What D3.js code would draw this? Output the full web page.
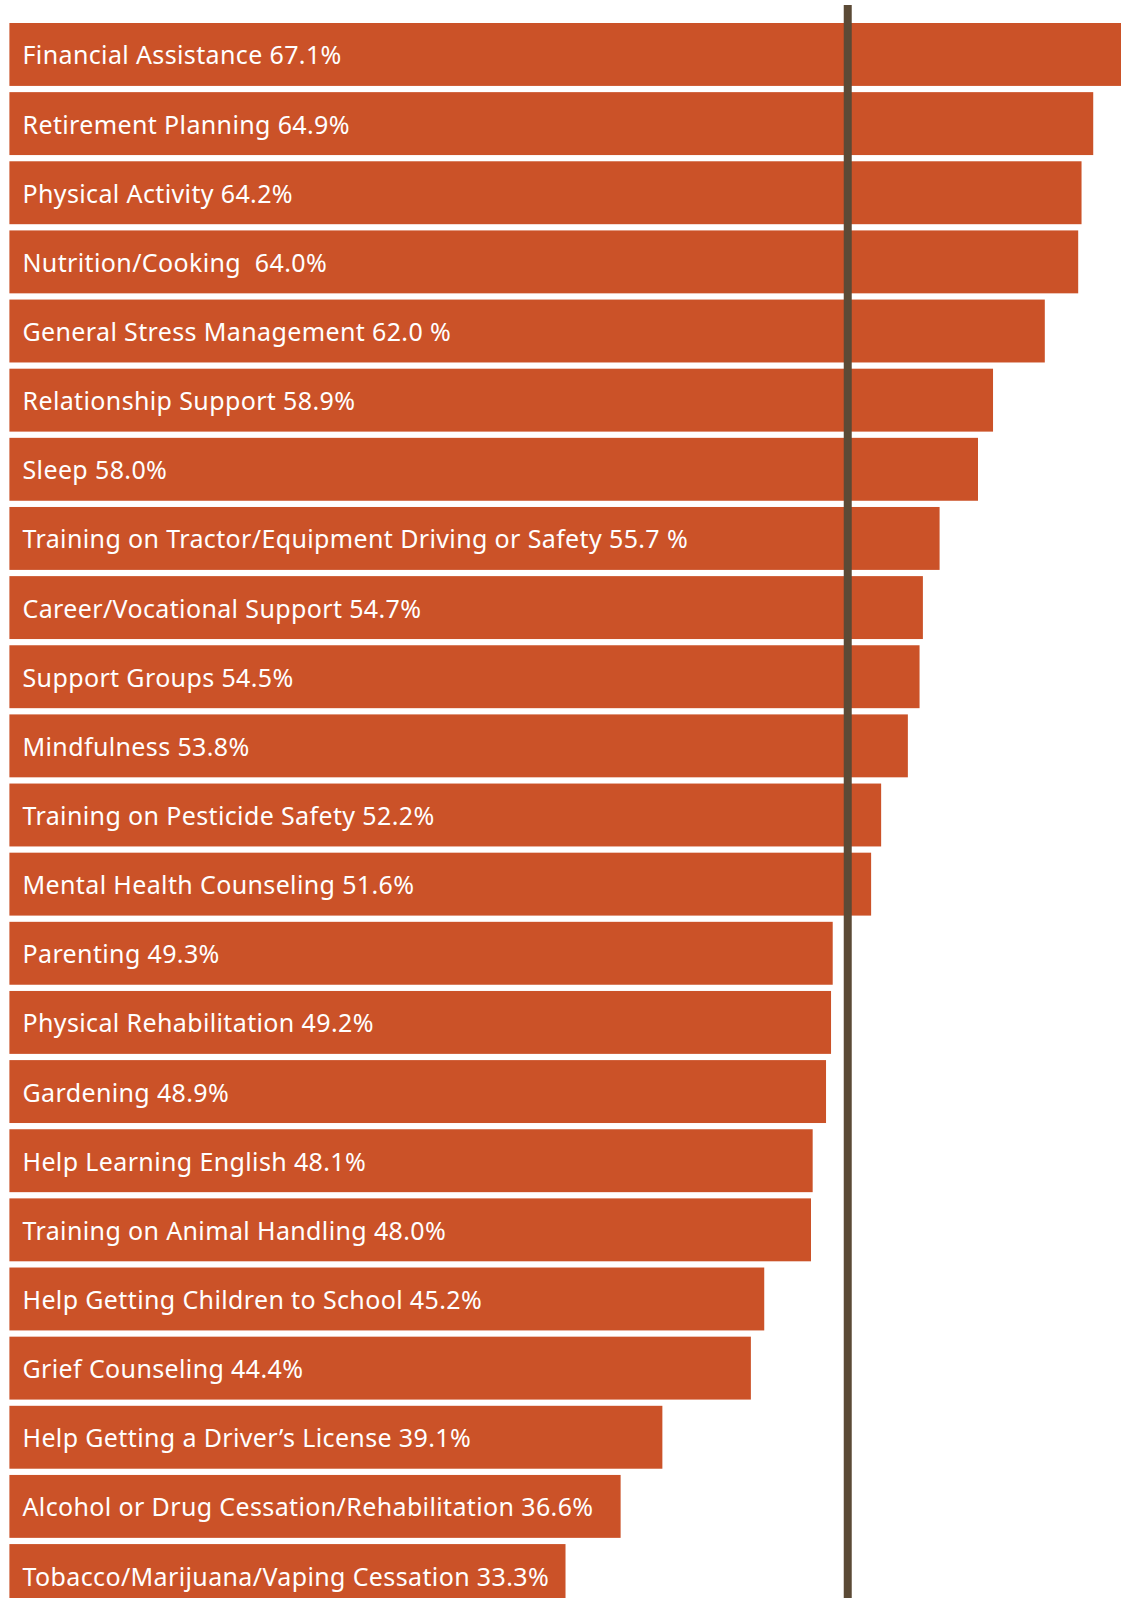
<!DOCTYPE html>
<html>
<head>
<meta charset="utf-8">
<script src="https://cdn.jsdelivr.net/npm/d3@7"></script>
<style>
  html, body { margin: 0; padding: 0; background: #fff; overflow: hidden; }
  svg { display: block; }
  text { white-space: pre; }
</style>
</head>
<body>
<svg id="chart" width="1121" height="1598"></svg>
<script>
const categories = [
  "Financial Assistance", "Retirement Planning", "Physical Activity", "Nutrition/Cooking",
  "General Stress Management", "Relationship Support", "Sleep",
  "Training on Tractor/Equipment Driving or Safety", "Career/Vocational Support",
  "Support Groups", "Mindfulness", "Training on Pesticide Safety", "Mental Health Counseling",
  "Parenting", "Physical Rehabilitation", "Gardening", "Help Learning English",
  "Training on Animal Handling", "Help Getting Children to School", "Grief Counseling",
  "Help Getting a Driver\u2019s License", "Alcohol or Drug Cessation/Rehabilitation",
  "Tobacco/Marijuana/Vaping Cessation"
];
const values = [67.1, 64.9, 64.2, 64.0, 62.0, 58.9, 58.0, 55.7, 54.7, 54.5, 53.8, 52.2, 51.6,
  49.3, 49.2, 48.9, 48.1, 48.0, 45.2, 44.4, 39.1, 36.6, 33.3];
const valueLabels = ["67.1%", "64.9%", "64.2%", " 64.0%", "62.0 %", "58.9%", "58.0%", "55.7 %",
  "54.7%", "54.5%", "53.8%", "52.2%", "51.6%", "49.3%", "49.2%", "48.9%", "48.1%", "48.0%",
  "45.2%", "44.4%", "39.1%", "36.6%", "33.3%"];
const referenceValue = 50.2;

const data = categories.map((c, i) => ({ name: c, value: values[i], label: c + " " + valueLabels[i] }));

const W = 1121, H = 1598;
const svg = d3.select("#chart");

const x = d3.scaleLinear().domain([0, 100]).range([9.4, 9.4 + 1670]);
const y = d3.scaleBand().domain(categories).range([23, 1607]).paddingInner(0.09).paddingOuter(0);

const barColor = "#cb5228";
const lineColor = "#5b4a36";

const g = svg.append("g");

g.selectAll("rect.bar")
  .data(data)
  .join("rect")
  .attr("class", "bar")
  .attr("x", x(0))
  .attr("y", d => y(d.name))
  .attr("width", d => Math.min(x(d.value), W) - x(0))
  .attr("height", y.bandwidth())
  .attr("fill", barColor);

svg.append("line")
  .attr("x1", x(referenceValue))
  .attr("x2", x(referenceValue))
  .attr("y1", 5)
  .attr("y2", H)
  .attr("stroke", lineColor)
  .attr("stroke-width", 8);

g.selectAll("text.label")
  .data(data)
  .join("text")
  .attr("class", "label")
  .attr("x", 22.5)
  .attr("y", d => y(d.name) + y.bandwidth() / 2 + 10)
  .attr("fill", "#fff")
  .attr("font-family", "'Noto Sans', 'Open Sans', sans-serif")
  .attr("font-size", 25)
  .attr("letter-spacing", 0.37)
  .attr("xml:space", "preserve")
  .text(d => d.label);
</script>
</body>
</html>
